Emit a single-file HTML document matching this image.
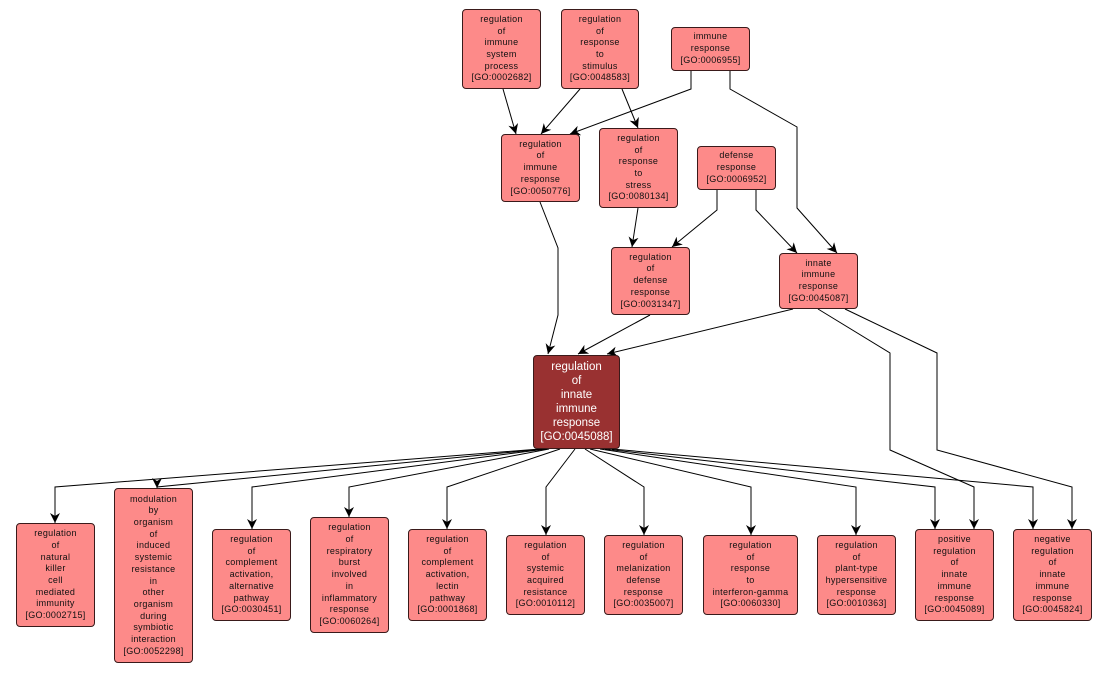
<!DOCTYPE html>
<html><head><meta charset="utf-8"><style>
body{margin:0;background:#fff;width:1109px;height:673px;position:relative;overflow:hidden;font-family:"Liberation Sans",sans-serif}
.n{position:absolute;box-sizing:border-box;background:#fd8a89;border:1px solid #3a1a1a;border-radius:4px;display:flex;align-items:center;justify-content:center;text-align:center;font-size:9px;line-height:11.7px;color:#111;letter-spacing:0.3px}
.m{background:#993131;color:#fff;font-size:11.5px;line-height:14px;letter-spacing:0}
svg{position:absolute;left:0;top:0}
</style></head><body>
<svg width="1109" height="673">
<defs><marker id="a" markerWidth="12" markerHeight="12" refX="10" refY="5" orient="auto" markerUnits="userSpaceOnUse"><path d="M0,0 L10,5 L0,10 L3,5z" fill="#000"/></marker></defs>
<g fill="none" stroke="#000" stroke-width="1" marker-end="url(#a)">
<polyline points="503,89 516,134"/>
<polyline points="580,89 541,134"/>
<polyline points="691,71 691,89 570,134"/>
<polyline points="622,89 638,128"/>
<polyline points="730,71 730,89 797,127 797,208 837,253"/>
<polyline points="638,208 632,247"/>
<polyline points="717,190 717,210 672,247"/>
<polyline points="756,190 756,210 797,253"/>
<polyline points="540,202 558,248 558,315 548,354"/>
<polyline points="650,315 578,354"/>
<polyline points="793,309 607,354"/>
<polyline points="818,309 890,353 890,450 974,487 974,529"/>
<polyline points="845,309 937,353 937,450 1072,487 1072,529"/>
<polyline points="540,449 55,487 55,523"/>
<polyline points="543,449 157,487 157,488"/>
<polyline points="546,449 252,487 252,529"/>
<polyline points="549,449 349,487 349,517"/>
<polyline points="560,449 447,487 447,529"/>
<polyline points="575,449 546,487 546,535"/>
<polyline points="585,449 644,487 644,535"/>
<polyline points="590,449 751,487 751,535"/>
<polyline points="600,449 856,487 856,535"/>
<polyline points="605,449 935,487 935,529"/>
<polyline points="612,449 1033,487 1033,529"/>
</g></svg>
<div class="n" style="left:462px;top:9px;width:79px;height:80px">regulation<br>of<br>immune<br>system<br>process<br>[GO:0002682]</div>
<div class="n" style="left:561px;top:9px;width:78px;height:80px">regulation<br>of<br>response<br>to<br>stimulus<br>[GO:0048583]</div>
<div class="n" style="left:671px;top:27px;width:79px;height:44px">immune<br>response<br>[GO:0006955]</div>
<div class="n" style="left:501px;top:134px;width:79px;height:68px">regulation<br>of<br>immune<br>response<br>[GO:0050776]</div>
<div class="n" style="left:599px;top:128px;width:79px;height:80px">regulation<br>of<br>response<br>to<br>stress<br>[GO:0080134]</div>
<div class="n" style="left:697px;top:146px;width:79px;height:44px">defense<br>response<br>[GO:0006952]</div>
<div class="n" style="left:611px;top:247px;width:79px;height:68px">regulation<br>of<br>defense<br>response<br>[GO:0031347]</div>
<div class="n" style="left:779px;top:253px;width:79px;height:56px">innate<br>immune<br>response<br>[GO:0045087]</div>
<div class="n m" style="left:533px;top:355px;width:87px;height:94px">regulation<br>of<br>innate<br>immune<br>response<br>[GO:0045088]</div>
<div class="n" style="left:16px;top:523px;width:79px;height:104px">regulation<br>of<br>natural<br>killer<br>cell<br>mediated<br>immunity<br>[GO:0002715]</div>
<div class="n" style="left:114px;top:488px;width:79px;height:175px">modulation<br>by<br>organism<br>of<br>induced<br>systemic<br>resistance<br>in<br>other<br>organism<br>during<br>symbiotic<br>interaction<br>[GO:0052298]</div>
<div class="n" style="left:212px;top:529px;width:79px;height:92px">regulation<br>of<br>complement<br>activation,<br>alternative<br>pathway<br>[GO:0030451]</div>
<div class="n" style="left:310px;top:517px;width:79px;height:116px">regulation<br>of<br>respiratory<br>burst<br>involved<br>in<br>inflammatory<br>response<br>[GO:0060264]</div>
<div class="n" style="left:408px;top:529px;width:79px;height:92px">regulation<br>of<br>complement<br>activation,<br>lectin<br>pathway<br>[GO:0001868]</div>
<div class="n" style="left:506px;top:535px;width:79px;height:80px">regulation<br>of<br>systemic<br>acquired<br>resistance<br>[GO:0010112]</div>
<div class="n" style="left:604px;top:535px;width:79px;height:80px">regulation<br>of<br>melanization<br>defense<br>response<br>[GO:0035007]</div>
<div class="n" style="left:703px;top:535px;width:95px;height:80px">regulation<br>of<br>response<br>to<br>interferon-gamma<br>[GO:0060330]</div>
<div class="n" style="left:817px;top:535px;width:79px;height:80px">regulation<br>of<br>plant-type<br>hypersensitive<br>response<br>[GO:0010363]</div>
<div class="n" style="left:915px;top:529px;width:79px;height:92px">positive<br>regulation<br>of<br>innate<br>immune<br>response<br>[GO:0045089]</div>
<div class="n" style="left:1013px;top:529px;width:79px;height:92px">negative<br>regulation<br>of<br>innate<br>immune<br>response<br>[GO:0045824]</div>
</body></html>
